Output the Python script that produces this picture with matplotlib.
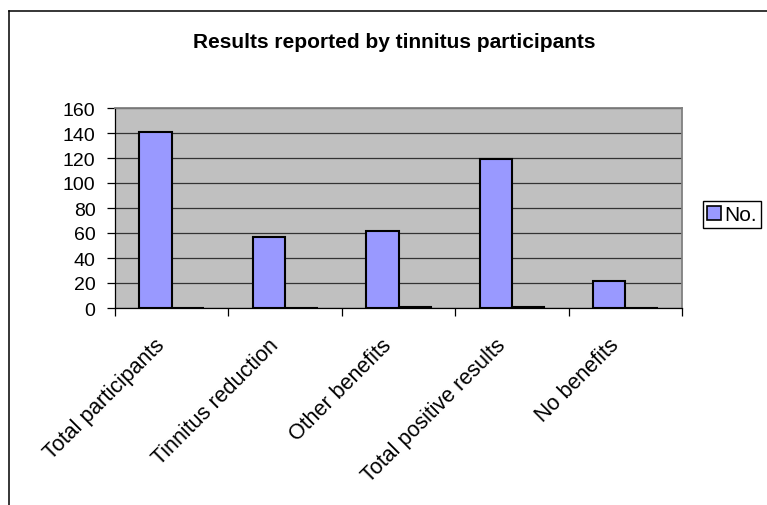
import matplotlib.pyplot as plt
import numpy as np
from matplotlib.lines import Line2D
from matplotlib.patches import Patch
from matplotlib.transforms import ScaledTranslation

plt.rcParams['font.family'] = ['Liberation Sans', 'DejaVu Sans']

# data
categories = ['Total participants', 'Tinnitus reduction', 'Other benefits',
              'Total positive results', 'No benefits']
counts = [141, 57, 62, 119, 22]
fractions = [0, 0.40, 0.44, 0.84, 0.16]   # second (unlabelled) series, near zero
y_ticks = [0, 20, 40, 60, 80, 100, 120, 140, 160]

W, H = 767, 506
fig = plt.figure(figsize=(W / 100, H / 100), dpi=100)

# outer chart border (only top and left edges are visible in the crop)
fig.add_artist(Line2D([9 / W, 1], [1 - 12 / H, 1 - 12 / H], color='black', lw=1.1))
fig.add_artist(Line2D([9 / W, 9 / W], [0, 1 - 12 / H], color='black', lw=1.1))

ax = fig.add_axes([115 / W, 1 - 309 / H, (682 - 115) / W, (309 - 109) / H])
ax.set_facecolor('#C0C0C0')

x = np.arange(len(categories))
w = 1 / 3.5
ax.bar(x - w / 2, counts, width=w, color='#9999FF', edgecolor='black', lw=1.5,
       label='No.', zorder=3)
ax.bar(x + w / 2, fractions, width=w, color='#993366', edgecolor='black', lw=1.5,
       zorder=3)

ax.set_xlim(-0.5, len(categories) - 0.5)
ax.set_ylim(0, 160)
ax.set_yticks(y_ticks)
ax.yaxis.grid(True, color='#333333', lw=0.9, zorder=1)
ax.set_axisbelow(True)

for s in ['top', 'right']:
    ax.spines[s].set_color('#808080')
    ax.spines[s].set_linewidth(1.3)
for s in ['left', 'bottom']:
    ax.spines[s].set_color('black')
    ax.spines[s].set_linewidth(0.9)

ax.tick_params(axis='y', direction='out', length=6, width=0.9, pad=8, labelsize=14)
ax.set_xticks(x)
ax.set_xticks(np.arange(len(categories) + 1) - 0.5, minor=True)
ax.tick_params(axis='x', which='major', length=0, pad=24, labelsize=15.5)
ax.tick_params(axis='x', which='minor', direction='out', length=6, width=0.9)
ax.set_xticklabels(categories, rotation=45, ha='right', va='center',
                   rotation_mode='anchor')
for lab in ax.get_xticklabels():
    lab.set_transform(lab.get_transform() + ScaledTranslation(-7 / 72, 0, fig.dpi_scale_trans))

fig.text(394 / W, 1 - 42 / H, 'Results reported by tinnitus participants',
         ha='center', va='center', fontsize=15, fontweight='bold')

fig.legend(handles=[Patch(facecolor='#9999FF', edgecolor='black', lw=1.2, label='No.')],
           loc='upper left', bbox_to_anchor=(703 / W, 1 - 202 / H),
           fontsize=15, frameon=True, fancybox=False, edgecolor='black',
           handlelength=0.65, handleheight=0.65, handletextpad=0.15,
           borderpad=0.2, borderaxespad=0, framealpha=1)

fig.savefig('out.png', dpi=100)
